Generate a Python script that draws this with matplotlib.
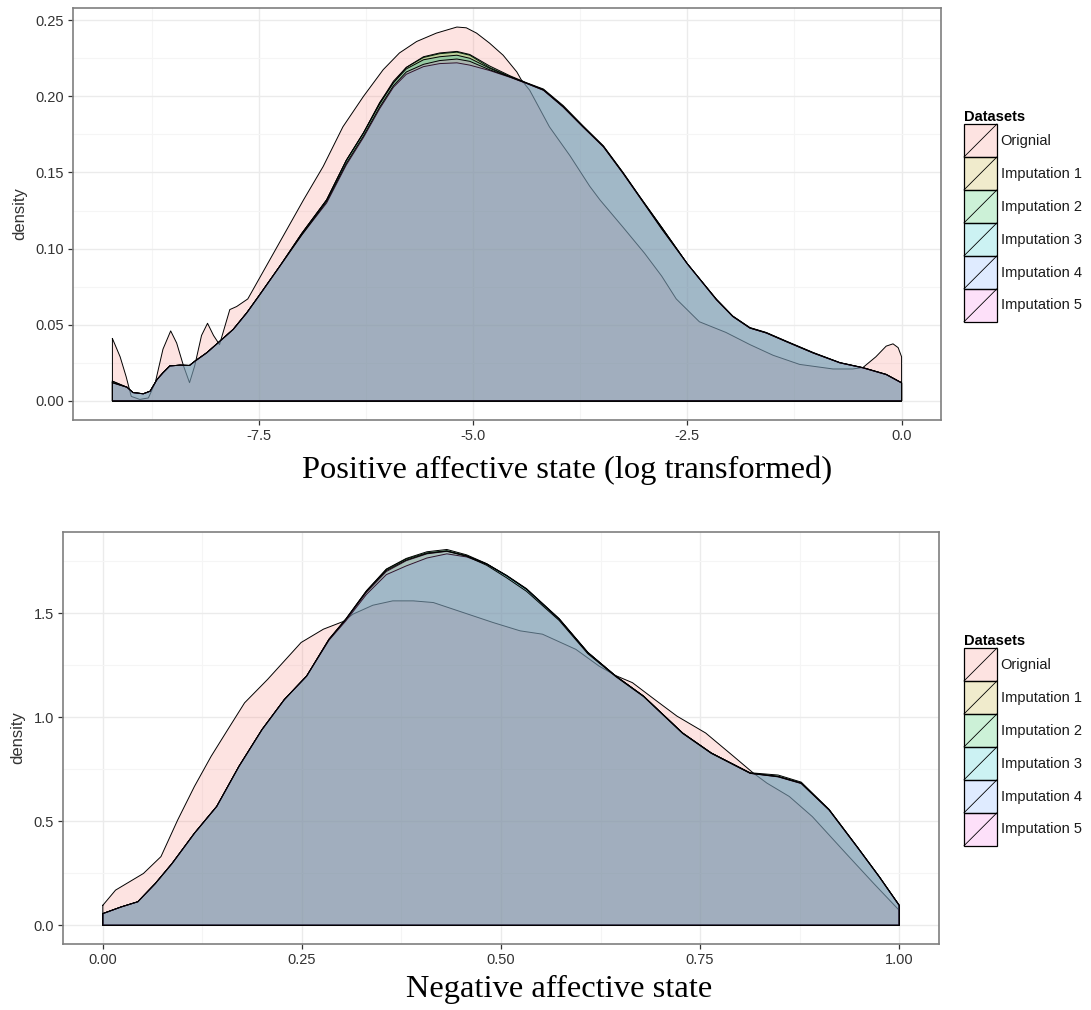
"""
Density comparison of the original data against five imputed datasets
"""

import matplotlib
matplotlib.use('Agg')
import matplotlib.pyplot as plt
from matplotlib.colors import to_rgba
from matplotlib.patches import Patch, Rectangle
from matplotlib.lines import Line2D
from matplotlib.legend_handler import HandlerBase
from matplotlib.ticker import MultipleLocator, FormatStrFormatter

# Dataset names and ggplot hue colours
dataset_names = ['Orignial', 'Imputation 1', 'Imputation 2',
                 'Imputation 3', 'Imputation 4', 'Imputation 5']
dataset_colors = ['#F8766D', '#B79F00', '#00BA38', '#00BFC4', '#619CFF', '#F564E3']

# Positive affective state (log transformed): original density
pos_x_orig = [-9.21, -9.12, -9.05, -8.99, -8.89, -8.79, -8.71, -8.62, -8.53, -8.46,
              -8.38, -8.31, -8.25, -8.17, -8.10, -8.03, -7.96, -7.84, -7.76, -7.63,
              -7.50, -7.25, -6.98, -6.75, -6.52, -6.28, -6.05, -5.86, -5.66, -5.43,
              -5.19, -5.08, -4.96, -4.81, -4.65, -4.49, -4.44, -4.34, -4.11, -3.87,
              -3.64, -3.52, -3.25, -3.00, -2.80, -2.63, -2.36, -2.05, -1.77, -1.50,
              -1.19, -0.80, -0.57, -0.45, -0.30, -0.18, -0.10, -0.04, 0.0]
pos_orig = [0.041, 0.029, 0.016, 0.003, 0.001, 0.002, 0.012, 0.034, 0.046, 0.038,
            0.023, 0.012, 0.023, 0.043, 0.051, 0.043, 0.037, 0.060, 0.062, 0.067,
            0.080, 0.105, 0.132, 0.154, 0.180, 0.200, 0.2175, 0.2285, 0.236, 0.2415,
            0.2455, 0.245, 0.2415, 0.235, 0.227, 0.216, 0.211, 0.204, 0.180, 0.161,
            0.141, 0.132, 0.114, 0.097, 0.082, 0.067, 0.052, 0.045, 0.037, 0.030,
            0.024, 0.021, 0.021, 0.022, 0.029, 0.036, 0.0375, 0.035, 0.029]

# Positive affective state: imputed densities (shared grid)
pos_x_imp = [-9.21, -9.04, -8.97, -8.85, -8.77, -8.69, -8.62, -8.54, -8.42, -8.31,
             -8.25, -8.11, -7.96, -7.80, -7.64, -7.50, -7.25, -7.00, -6.71, -6.48,
             -6.28, -6.09, -5.93, -5.78, -5.58, -5.39, -5.19, -5.04, -4.81, -4.57,
             -4.38, -4.18, -3.95, -3.72, -3.48, -3.25, -3.06, -2.80, -2.50, -2.16,
             -1.97, -1.77, -1.58, -1.35, -1.03, -0.72, -0.45, -0.18, 0.0]
pos_imp1 = [0.013, 0.009, 0.0055, 0.0047, 0.0064, 0.014, 0.0185, 0.023, 0.0235, 0.0233,
            0.026, 0.0316, 0.039, 0.047, 0.058, 0.069, 0.089, 0.110, 0.132, 0.158,
            0.176, 0.1957, 0.210, 0.219, 0.2255, 0.228, 0.229, 0.227, 0.219, 0.213,
            0.2088, 0.2044, 0.1934, 0.1803, 0.1672, 0.1497, 0.1344, 0.114, 0.090, 0.0666,
            0.0556, 0.048, 0.0448, 0.0392, 0.0316, 0.0251, 0.0218, 0.0174, 0.0119]
pos_imp2 = [0.013, 0.009, 0.0055, 0.0047, 0.0064, 0.014, 0.0185, 0.023, 0.0235, 0.0233,
            0.026, 0.0316, 0.039, 0.047, 0.058, 0.069, 0.089, 0.110, 0.132, 0.158,
            0.176, 0.1960, 0.209, 0.219, 0.226, 0.2285, 0.2295, 0.2275, 0.220, 0.2135,
            0.2090, 0.2048, 0.1940, 0.1808, 0.1675, 0.1500, 0.1346, 0.114, 0.090, 0.0668,
            0.0558, 0.0482, 0.0450, 0.0394, 0.0318, 0.0252, 0.0219, 0.0175, 0.0120]
pos_imp3 = [0.012, 0.009, 0.0055, 0.0047, 0.0064, 0.014, 0.0185, 0.023, 0.0235, 0.0233,
            0.026, 0.0316, 0.039, 0.047, 0.058, 0.069, 0.089, 0.110, 0.132, 0.158,
            0.176, 0.1950, 0.209, 0.218, 0.224, 0.226, 0.227, 0.225, 0.2185, 0.2128,
            0.2086, 0.2040, 0.1930, 0.1800, 0.1670, 0.1495, 0.1342, 0.114, 0.090, 0.0664,
            0.0555, 0.0479, 0.0447, 0.0391, 0.0315, 0.0250, 0.0217, 0.0173, 0.0118]
pos_imp4 = [0.012, 0.009, 0.0055, 0.0047, 0.0064, 0.014, 0.0185, 0.023, 0.0235, 0.0233,
            0.026, 0.0316, 0.039, 0.047, 0.058, 0.069, 0.089, 0.109, 0.130, 0.155,
            0.173, 0.1920, 0.206, 0.2145, 0.2195, 0.2215, 0.222, 0.2205, 0.217, 0.2125,
            0.2085, 0.2040, 0.1930, 0.1800, 0.1668, 0.1493, 0.1340, 0.113, 0.090, 0.0663,
            0.0554, 0.0478, 0.0446, 0.0390, 0.0314, 0.0250, 0.0217, 0.0173, 0.0118]
pos_imp5 = [0.012, 0.009, 0.0055, 0.0047, 0.0064, 0.014, 0.0185, 0.023, 0.0235, 0.0233,
            0.026, 0.0316, 0.039, 0.047, 0.058, 0.069, 0.089, 0.109, 0.131, 0.156,
            0.174, 0.1930, 0.207, 0.216, 0.221, 0.2235, 0.2245, 0.223, 0.2175, 0.2127,
            0.2087, 0.2042, 0.1932, 0.1802, 0.1670, 0.1495, 0.1342, 0.113, 0.090, 0.0665,
            0.0555, 0.0479, 0.0447, 0.0391, 0.0315, 0.0251, 0.0218, 0.0174, 0.0119]

# Negative affective state: original density
neg_x_orig = [0.0, 0.016, 0.051, 0.073, 0.094, 0.115, 0.136, 0.157, 0.178, 0.207,
              0.249, 0.277, 0.302, 0.314, 0.339, 0.364, 0.390, 0.415, 0.440, 0.465,
              0.490, 0.524, 0.552, 0.594, 0.623, 0.644, 0.665, 0.693, 0.721, 0.757,
              0.792, 0.817, 0.834, 0.862, 0.891, 0.933, 0.968, 1.0]
neg_orig = [0.096, 0.169, 0.249, 0.330, 0.506, 0.667, 0.812, 0.941, 1.069, 1.182,
            1.359, 1.423, 1.460, 1.495, 1.538, 1.559, 1.559, 1.551, 1.519, 1.487,
            1.455, 1.415, 1.399, 1.326, 1.246, 1.200, 1.166, 1.085, 1.005, 0.924,
            0.812, 0.731, 0.683, 0.619, 0.522, 0.346, 0.201, 0.072]

# Negative affective state: imputed densities (shared grid)
neg_x_imp = [0.0, 0.023, 0.044, 0.066, 0.087, 0.115, 0.143, 0.171, 0.200, 0.228,
             0.256, 0.284, 0.305, 0.331, 0.356, 0.381, 0.407, 0.432, 0.457, 0.482,
             0.507, 0.532, 0.573, 0.609, 0.644, 0.679, 0.728, 0.764, 0.813, 0.848,
             0.877, 0.912, 0.947, 0.975, 1.0]
neg_imp1 = [0.056, 0.088, 0.113, 0.201, 0.297, 0.442, 0.571, 0.764, 0.941, 1.085,
            1.198, 1.375, 1.471, 1.607, 1.710, 1.760, 1.790, 1.800, 1.776, 1.736,
            1.679, 1.615, 1.471, 1.310, 1.198, 1.101, 0.924, 0.828, 0.731, 0.715,
            0.683, 0.555, 0.378, 0.233, 0.096]
neg_imp2 = [0.056, 0.088, 0.113, 0.201, 0.297, 0.442, 0.571, 0.764, 0.941, 1.085,
            1.198, 1.375, 1.471, 1.607, 1.712, 1.763, 1.795, 1.806, 1.780, 1.738,
            1.680, 1.615, 1.472, 1.311, 1.198, 1.101, 0.924, 0.828, 0.733, 0.722,
            0.688, 0.557, 0.379, 0.234, 0.097]
neg_imp3 = [0.056, 0.088, 0.113, 0.201, 0.297, 0.442, 0.571, 0.764, 0.941, 1.085,
            1.198, 1.372, 1.468, 1.600, 1.700, 1.752, 1.785, 1.797, 1.775, 1.737,
            1.682, 1.618, 1.474, 1.312, 1.198, 1.101, 0.924, 0.828, 0.731, 0.716,
            0.684, 0.555, 0.378, 0.233, 0.096]
neg_imp4 = [0.056, 0.088, 0.113, 0.201, 0.297, 0.442, 0.571, 0.764, 0.941, 1.085,
            1.198, 1.370, 1.462, 1.590, 1.685, 1.727, 1.765, 1.785, 1.770, 1.735,
            1.680, 1.615, 1.471, 1.310, 1.198, 1.101, 0.924, 0.828, 0.730, 0.713,
            0.681, 0.554, 0.377, 0.233, 0.095]
neg_imp5 = [0.056, 0.088, 0.113, 0.201, 0.297, 0.442, 0.571, 0.764, 0.941, 1.085,
            1.198, 1.373, 1.469, 1.604, 1.705, 1.755, 1.787, 1.798, 1.773, 1.730,
            1.670, 1.605, 1.465, 1.305, 1.195, 1.099, 0.922, 0.826, 0.730, 0.714,
            0.682, 0.554, 0.377, 0.232, 0.095]

pos_series = [(pos_x_orig, pos_orig), (pos_x_imp, pos_imp1), (pos_x_imp, pos_imp2),
              (pos_x_imp, pos_imp3), (pos_x_imp, pos_imp4), (pos_x_imp, pos_imp5)]
neg_series = [(neg_x_orig, neg_orig), (neg_x_imp, neg_imp1), (neg_x_imp, neg_imp2),
              (neg_x_imp, neg_imp3), (neg_x_imp, neg_imp4), (neg_x_imp, neg_imp5)]

TICK_COLOR = '#333333'
SANS = 'Liberation Sans'


class DensityKey(HandlerBase):
    """Legend key: filled square with black border and a diagonal stroke."""

    def create_artists(self, legend, orig_handle, xdescent, ydescent,
                       width, height, fontsize, trans):
        x0, y0 = -xdescent, -ydescent
        box = Rectangle((x0, y0), width, height,
                        facecolor=orig_handle.get_facecolor(),
                        edgecolor='black', lw=0.9, transform=trans)
        slash = Line2D([x0, x0 + width], [y0, y0 + height],
                       color='black', lw=0.6, transform=trans)
        return [box, slash]


def draw_panel(ax, series, xlim, ylim, xmajor, ymajor, xfmt, yfmt):
    # each density: translucent fill, then its black outline (closed to the baseline)
    for i, (xs, ys) in enumerate(series):
        px = list(xs) + [xs[-1], xs[0]]
        py = list(ys) + [0, 0]
        ax.fill(px, py, fc=to_rgba(dataset_colors[i], 0.2), ec='none', zorder=3 + 2 * i)
        ax.plot(px + [xs[0]], py + [ys[0]], color='black', lw=0.7, zorder=4 + 2 * i)

    ax.set_xlim(*xlim)
    ax.set_ylim(*ylim)
    ax.xaxis.set_major_locator(MultipleLocator(xmajor))
    ax.xaxis.set_minor_locator(MultipleLocator(xmajor / 2))
    ax.yaxis.set_major_locator(MultipleLocator(ymajor))
    ax.yaxis.set_minor_locator(MultipleLocator(ymajor / 2))
    ax.xaxis.set_major_formatter(FormatStrFormatter(xfmt))
    ax.yaxis.set_major_formatter(FormatStrFormatter(yfmt))

    ax.grid(which='major', color='#EBEBEB', lw=1.0, zorder=0)
    ax.grid(which='minor', color='#F5F5F5', lw=0.8, zorder=0)
    ax.set_axisbelow(True)
    for side in ax.spines.values():
        side.set_color('#7F7F7F')
        side.set_linewidth(1.2)
    ax.tick_params(which='major', direction='out', length=3.5, width=0.9,
                   color=TICK_COLOR, labelcolor=TICK_COLOR, labelsize=10.5, pad=3)
    ax.tick_params(which='minor', length=0)
    for lab in ax.get_xticklabels() + ax.get_yticklabels():
        lab.set_family(SANS)
    ax.set_ylabel('density', family=SANS, fontsize=12, color=TICK_COLOR)


fig = plt.figure(figsize=(10.91, 10.10), dpi=100)

ax_pos = fig.add_axes([73 / 1091, 1 - 420 / 1010, 868 / 1091, 412 / 1010])
draw_panel(ax_pos, pos_series, (-9.67, 0.46), (-0.0125, 0.258), 2.5, 0.05, '%.1f', '%.2f')
ax_pos.yaxis.set_label_coords(-0.053, 0.5)

ax_neg = fig.add_axes([63 / 1091, 1 - 944 / 1010, 876 / 1091, 412 / 1010])
draw_panel(ax_neg, neg_series, (-0.05, 1.05), (-0.09, 1.89), 0.25, 0.5, '%.2f', '%.1f')
ax_neg.yaxis.set_label_coords(-0.0434, 0.5)

# Legends
handles = [Patch(facecolor=to_rgba(c, 0.2)) for c in dataset_colors]
for top_px in (110, 634):
    leg = fig.legend(handles, dataset_names, handler_map={Patch: DensityKey()},
                     loc='upper left', bbox_to_anchor=(964 / 1091, 1 - top_px / 1010),
                     bbox_transform=fig.transFigure, frameon=False,
                     title='Datasets', alignment='left',
                     prop={'family': SANS, 'size': 10.5},
                     title_fontproperties={'family': SANS, 'size': 10.5, 'weight': 'bold'},
                     handlelength=2.26, handleheight=3.1, handletextpad=0.25,
                     labelspacing=0, borderpad=0, borderaxespad=0)
    for t in leg.get_texts():
        t.set_color('#1A1A1A')

# Axis captions
fig.text(567 / 1091, 1 - 470 / 1010, 'Positive affective state (log transformed)',
         ha='center', va='center', family='Liberation Serif', fontsize=23.4)
fig.text(559 / 1091, 1 - 989 / 1010, 'Negative affective state',
         ha='center', va='center', family='Liberation Serif', fontsize=23.4)

fig.savefig('out.png', dpi=100)
plt.close(fig)
